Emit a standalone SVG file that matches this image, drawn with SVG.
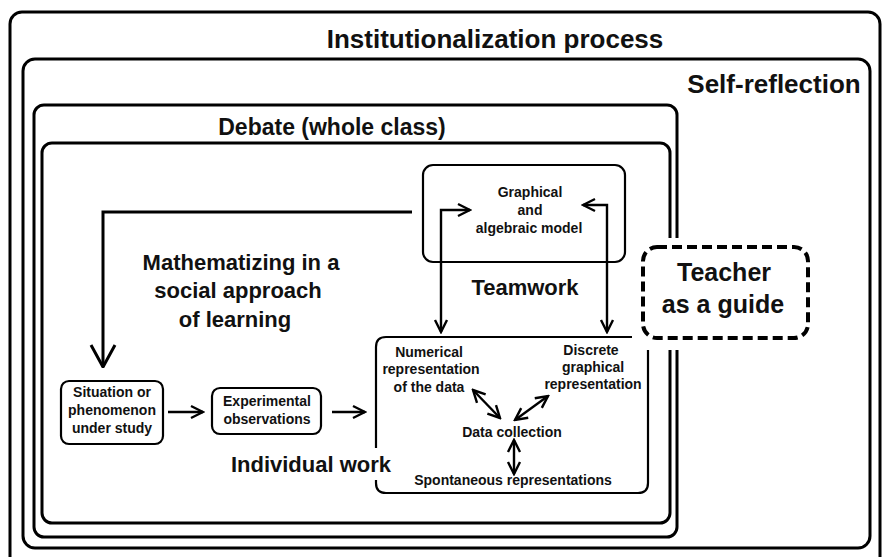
<svg xmlns="http://www.w3.org/2000/svg" width="883" height="557" viewBox="0 0 883 557">
<defs>
<style>
.frame{fill:none;stroke:#000;stroke-width:3}
.box{fill:#fff;stroke:#000;stroke-width:2.2}
.line{fill:none;stroke:#000;stroke-width:2.2}
.t{font-family:"Liberation Sans",Arial,sans-serif;font-weight:bold;fill:#111;text-anchor:middle}
.big{font-size:26px}
.mid{font-size:22px}
.sm{font-size:14px}
.conn{fill:none;stroke:#000;stroke-width:2.4}
</style>
<marker id="ah" viewBox="-1 -8 15 16" refX="12" refY="0" markerWidth="15" markerHeight="16" markerUnits="userSpaceOnUse" orient="auto-start-reverse">
<path d="M0,-6 L12,0 L0,6" fill="none" stroke="#000" stroke-width="2.4"/>
</marker>
<marker id="ahb" viewBox="-2 -14 25 28" refX="22" refY="0" markerWidth="25" markerHeight="28" markerUnits="userSpaceOnUse" orient="auto">
<path d="M0,-12 L22,0 L0,12" fill="none" stroke="#000" stroke-width="3"/>
</marker>
</defs>
<rect width="883" height="557" fill="#fff"/>
<g id="institutionalization">
<rect class="frame" x="10" y="12" width="870" height="560" rx="12"/>
<text class="t big" x="495" y="48">Institutionalization process</text>
</g>
<g id="self-reflection">
<rect class="frame" x="23" y="59" width="847" height="489" rx="12"/>
<text class="t big" x="774" y="93">Self-reflection</text>
</g>
<g id="debate">
<rect class="frame" x="34" y="105" width="643" height="432" rx="10"/>
<text class="t" style="font-size:23px" x="332" y="135">Debate (whole class)</text>
</g>
<g id="mathematizing">
<rect class="frame" x="42" y="143" width="628" height="380" rx="10"/>
<text class="t mid" x="241" y="270">Mathematizing in a</text>
<text class="t mid" x="238" y="298">social approach</text>
<text class="t mid" x="235" y="327">of learning</text>
</g>
<g id="model">
<rect class="box" x="423" y="165" width="202" height="97" rx="10"/>
<text class="t sm" x="530" y="197">Graphical</text>
<text class="t sm" x="530" y="215">and</text>
<text class="t sm" x="529" y="233">algebraic model</text>
<text class="t mid" x="525" y="295">Teamwork</text>
</g>
<g id="individual">
<path class="line" d="M632,337 H386 Q376,337 376,347 V448 M376,480 V483 Q376,493 386,493 H638 Q648,493 648,483 V350"/>
<text class="t mid" x="311" y="472">Individual work</text>
<text class="t sm" x="429" y="357">Numerical</text>
<text class="t sm" x="431" y="374">representation</text>
<text class="t sm" x="429" y="392">of the data</text>
<text class="t sm" x="591" y="355">Discrete</text>
<text class="t sm" x="593" y="372">graphical</text>
<text class="t sm" x="593" y="389">representation</text>
<text class="t sm" x="512" y="437">Data collection</text>
<text class="t sm" x="513" y="485">Spontaneous representations</text>
</g>
<g id="situation">
<rect class="box" x="61" y="381" width="102" height="63" rx="8"/>
<text class="t sm" x="112" y="397">Situation or</text>
<text class="t sm" x="112" y="415">phenomenon</text>
<text class="t sm" x="112" y="433">under study</text>
</g>
<g id="experimental">
<rect class="box" x="212" y="388" width="109" height="46" rx="8"/>
<text class="t sm" x="267" y="406">Experimental</text>
<text class="t sm" x="267" y="424">observations</text>
</g>
<g id="teacher">
<rect x="632" y="238" width="185" height="112" fill="#fff"/>
<rect x="643" y="247" width="165" height="91" rx="14" fill="#fff" stroke="#000" stroke-width="4" stroke-dasharray="10 5"/>
<text class="t" style="font-size:25px" x="724" y="281">Teacher</text>
<text class="t" style="font-size:25px" x="723" y="313">as a guide</text>
</g>
<g id="connectors">
<path class="conn" style="stroke-width:3" d="M412,212 H103 V367" marker-end="url(#ahb)"/>
<path class="conn" d="M470,210 H441 V332" marker-start="url(#ah)" marker-end="url(#ah)"/>
<path class="conn" d="M583,205 H607 V332" marker-start="url(#ah)" marker-end="url(#ah)"/>
<path class="conn" d="M168,412 H203" marker-end="url(#ah)"/>
<path class="conn" d="M332,412 H365" marker-end="url(#ah)"/>
<path class="conn" d="M473,390 L500,418" marker-start="url(#ah)" marker-end="url(#ah)"/>
<path class="conn" d="M548,396 L515,420" marker-start="url(#ah)" marker-end="url(#ah)"/>
<path class="conn" d="M514,440 V474" marker-start="url(#ah)" marker-end="url(#ah)"/>
</g>
</svg>
